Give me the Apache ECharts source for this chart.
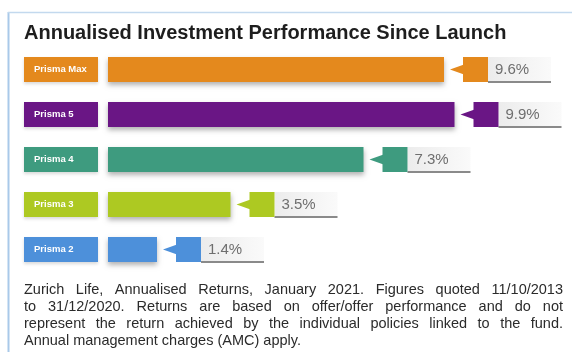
<!DOCTYPE html>
<html><head><meta charset="utf-8">
<script src="https://cdn.jsdelivr.net/npm/echarts@6/dist/echarts.min.js"></script>
<style>html,body{margin:0;padding:0;background:#fff}#c{width:572px;height:352px}</style>
</head><body><div id="c"></div>
<script>
const categories = ['Prisma Max', 'Prisma 5', 'Prisma 4', 'Prisma 3', 'Prisma 2'];
const returns = [9.6, 9.9, 7.3, 3.5, 1.4];
const titleText = 'Annualised Investment Performance Since Launch';
const footnoteLines = [
  'Zurich Life, Annualised Returns, January 2021. Figures quoted 11/10/2013',
  'to 31/12/2020. Returns are based on offer/offer performance and do not',
  'represent the return achieved by the individual policies linked to the fund.',
  'Annual management charges (AMC) apply.'
];
const palette = ['#E4891D', '#6A1685', '#3E9B7F', '#ADC922', '#4D90DA'];

const chart = echarts.init(document.getElementById('c'), null, {renderer: 'canvas'});

// footnote, justified word by word
const FONT_SIZE = 14.5, FONT_FAMILY = "'Liberation Sans', Arial, sans-serif";
const ctx = document.createElement('canvas').getContext('2d');
ctx.font = FONT_SIZE + 'px ' + FONT_FAMILY;
const LEFT = 24, RIGHT = 563;
const lineY = [289.5, 306.5, 323.5, 340.5];
const footGraphics = [];
footnoteLines.forEach((line, li) => {
  const words = line.split(' ');
  const last = li === footnoteLines.length - 1;
  const widths = words.map(w => ctx.measureText(w).width);
  const total = widths.reduce((a, b) => a + b, 0);
  const space = ctx.measureText(' ').width;
  const gap = last ? space : Math.max(space * 0.6, (RIGHT - LEFT - total) / (words.length - 1));
  let x = LEFT;
  words.forEach((w, wi) => {
    footGraphics.push({type: 'text', x: x, y: lineY[li],
      style: {text: w, font: FONT_SIZE + 'px ' + FONT_FAMILY, fill: '#2b2b2b', verticalAlign: 'middle'}});
    x += widths[wi] + gap;
  });
});

const rich = {};
palette.forEach((c, i) => {
  rich['b' + i] = {backgroundColor: c, width: 64, height: 25, padding: [0, 0, 0, 10], color: '#fff',
    fontSize: 9.5, fontWeight: 'bold', fontFamily: FONT_FAMILY, align: 'left',
    shadowColor: 'rgba(0,0,0,0.15)', shadowBlur: 3, shadowOffsetY: 2};
});

chart.setOption({
  animation: false,
  grid: {left: 108, right: 9, top: 47, bottom: 80},
  xAxis: {type: 'value', min: 0, max: 13, show: false},
  yAxis: {type: 'category', data: categories, inverse: true,
    axisLine: {show: false}, axisTick: {show: false}, splitLine: {show: false},
    axisLabel: {margin: 10, formatter: (v, i) => '{b' + i + '|' + v + '}', rich: rich}},
  graphic: [
    {type: 'line', shape: {x1: 8.5, y1: 12, x2: 8.5, y2: 352}, style: {stroke: '#A9C9E9', lineWidth: 2}},
    {type: 'line', shape: {x1: 8, y1: 12.5, x2: 572, y2: 12.5}, style: {stroke: '#C3D9EE', lineWidth: 1.5}},
    {type: 'text', x: 24, y: 33, style: {text: titleText, font: 'bold 20px ' + FONT_FAMILY, fill: '#1e1e1e', verticalAlign: 'middle'}}
  ].concat(footGraphics),
  series: [
    {type: 'bar', data: returns.map((v, i) => ({value: v, itemStyle: {color: palette[i]}})),
      barWidth: 25,
      itemStyle: {shadowColor: 'rgba(0,0,0,0.3)', shadowBlur: 5, shadowOffsetY: 3}},
    {type: 'custom', data: returns.map((v, i) => [v, i]), encode: {x: 0, y: 1},
      renderItem: (params, api) => {
        const p = api.coord([api.value(0), api.value(1)]);
        const c = palette[params.dataIndex];
        const x0 = p[0], cy = p[1], h = 25;
        const tip = x0 + 6, sq = x0 + 19, sqEnd = sq + 25, boxEnd = sqEnd + 63;
        return {type: 'group', children: [
          {type: 'rect', shape: {x: sqEnd, y: cy - h / 2, width: boxEnd - sqEnd, height: h},
            style: {fill: new echarts.graphic.LinearGradient(0, 0, 1, 0, [{offset: 0, color: '#ececec'}, {offset: 1, color: '#fafafa'}])}},
          {type: 'line', shape: {x1: sqEnd, y1: cy + h / 2, x2: boxEnd, y2: cy + h / 2},
            style: {stroke: '#8a8a8a', lineWidth: 2}},
          {type: 'polygon', shape: {points: [[tip, cy], [sq + 1, cy - 5], [sq + 1, cy + 5]]}, style: {fill: c}},
          {type: 'rect', shape: {x: sq, y: cy - h / 2, width: sqEnd - sq, height: h}, style: {fill: c}},
          {type: 'text', x: sqEnd + 7, y: cy,
            style: {text: api.value(0).toFixed(1) + '%', font: '15px ' + FONT_FAMILY, fill: '#6e6e6e', verticalAlign: 'middle'}}
        ]};
      }}
  ]
});
</script></body></html>
